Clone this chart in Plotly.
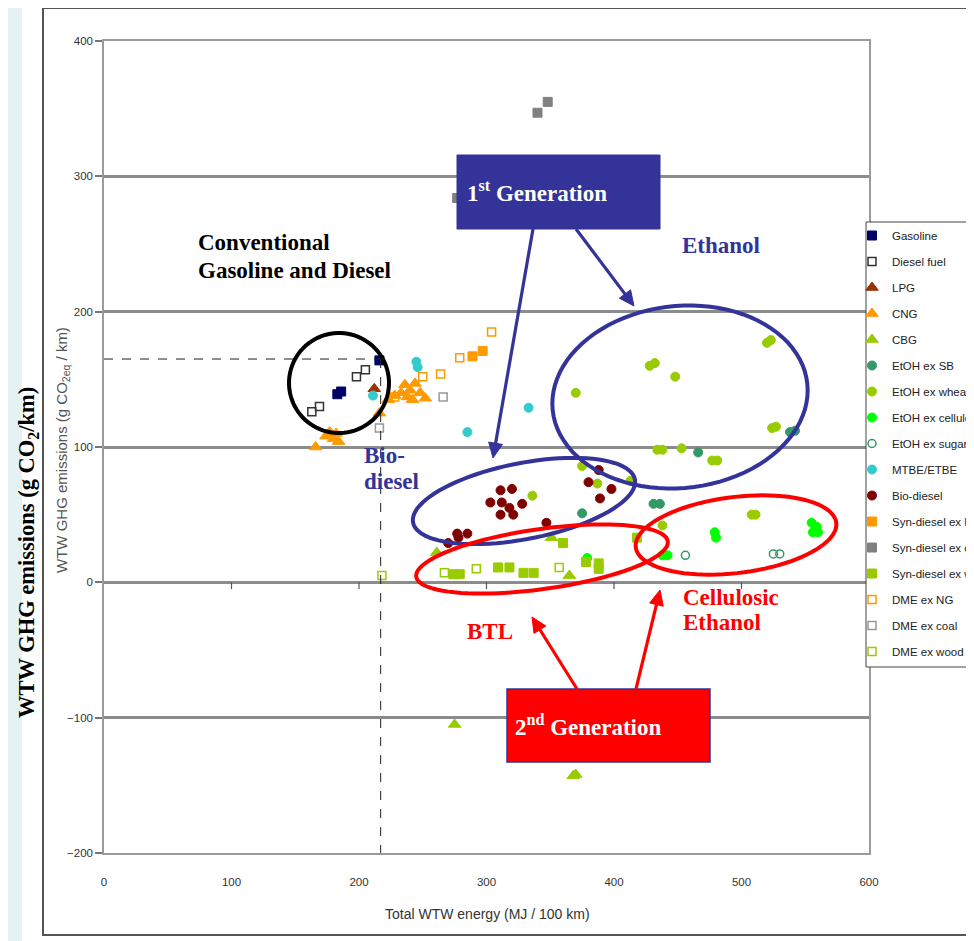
import math
import plotly.graph_objects as go

# ---------------- data ----------------
gasoline_x = [183, 186, 216]
gasoline_y = [139, 141, 164]

diesel_x = [163, 169, 198, 205]
diesel_y = [126, 130, 152, 157]

lpg_x = [212]
lpg_y = [143]

cng_x = [166, 174, 177, 180, 184, 182, 216, 223, 228, 233, 236, 238, 240, 242, 244, 248, 252]
cng_y = [100, 108, 111, 106, 104, 110, 125, 135, 138, 140, 146, 137, 142, 135, 147, 140, 136]

cbg_x = [261, 275, 351, 365, 368, 370]
cbg_y = [22, -105, 33, 5, -143, -142]

etoh_sb_x = [375, 431, 436, 466, 538, 542]
etoh_sb_y = [51, 58, 58, 96, 111, 112]

etoh_wheat_x = [370, 428, 432, 448, 520, 523, 524, 527, 434, 438, 453, 477, 481,
                336, 375, 387, 413, 438, 508, 511]
etoh_wheat_y = [140, 160, 162, 152, 177, 179, 114, 115, 98, 98, 99, 90, 90,
                64, 86, 73, 75, 42, 50, 50]

etoh_cell_x = [379, 438, 442, 479, 480, 555, 559, 556, 560]
etoh_cell_y = [18, 20, 20, 37, 33, 44, 41, 37, 37]

etoh_cane_x = [456, 525, 530]
etoh_cane_y = [20, 21, 21]

mtbe_x = [245, 246, 211, 333, 285]
mtbe_y = [163, 159, 138, 129, 111]

biodiesel_x = [311, 320, 303, 312, 328, 318, 311, 321, 347, 285, 277, 278, 270, 388, 380, 389, 398]
biodiesel_y = [68, 69, 59, 59, 58, 55, 50, 50, 44, 36, 36, 33, 29, 83, 74, 62, 69]

syn_ng_x = [289, 297]
syn_ng_y = [167, 171]

syn_coal_x = [277, 340, 348]
syn_coal_y = [284, 347, 355]

syn_wood_x = [274, 279, 309, 318, 329, 337, 360, 378, 388, 388, 418]
syn_wood_y = [6, 6, 11, 11, 7, 7, 29, 15, 14, 10, 33]

dme_ng_x = [228, 250, 264, 279, 304]
dme_ng_y = [137, 152, 154, 166, 185]

dme_coal_x = [216, 266]
dme_coal_y = [114, 137]

dme_wood_x = [218, 267, 292, 357]
dme_wood_y = [5, 7, 10, 11]

x_ticks = [0, 100, 200, 300, 400, 500, 600]
y_ticks = [-200, -100, 0, 100, 200, 300, 400]
ref_energy = 217   # reference gasoline energy (dashed line)
ref_ghg = 165      # reference gasoline GHG (dashed line)

# ---------------- layout geometry (window pixels) ----------------
WIN_W, WIN_H = 974, 941
OFF = 8                      # default page margin around the figure
W, H = WIN_W - OFF, WIN_H - OFF
PL, PR, PT, PB = 104, 869, 41, 853   # plot area in window pixels


def px(x):
    return (x - PL) / (PR - PL)


def py(y):
    return (PB - y) / (PB - PT)


SERIF = "Liberation Serif, Times New Roman, serif"
SANS = "Liberation Sans Narrow, Arial Narrow, Liberation Sans, Arial, sans-serif"
NAVY = "#333399"
RED = "#ff0000"

fig = go.Figure()

series = [
    ("Gasoline", gasoline_x, gasoline_y, "square", "#000066", 9, 1),
    ("Diesel fuel", diesel_x, diesel_y, "square-open", "#333333", 8, 1.5),
    ("LPG", lpg_x, lpg_y, "triangle-up", "#993300", 11, 1),
    ("CNG", cng_x, cng_y, "triangle-up", "#ff9900", 11, 1),
    ("CBG", cbg_x, cbg_y, "triangle-up", "#99cc00", 11, 1),
    ("EtOH ex SB", etoh_sb_x, etoh_sb_y, "circle", "#339966", 9, 1),
    ("EtOH ex wheat", etoh_wheat_x, etoh_wheat_y, "circle", "#99cc00", 9, 1),
    ("EtOH ex cellulose", etoh_cell_x, etoh_cell_y, "circle", "#00ff00", 9, 1),
    ("EtOH ex sugar cane", etoh_cane_x, etoh_cane_y, "circle-open", "#339966", 8, 1.5),
    ("MTBE/ETBE", mtbe_x, mtbe_y, "circle", "#33cccc", 9, 1),
    ("Bio-diesel", biodiesel_x, biodiesel_y, "circle", "#800000", 9, 1),
    ("Syn-diesel ex NG", syn_ng_x, syn_ng_y, "square", "#ff9900", 9, 1),
    ("Syn-diesel ex coal", syn_coal_x, syn_coal_y, "square", "#808080", 9, 1),
    ("Syn-diesel ex wood", syn_wood_x, syn_wood_y, "square", "#99cc00", 9, 1),
    ("DME ex NG", dme_ng_x, dme_ng_y, "square-open", "#ff9900", 8, 1.5),
    ("DME ex coal", dme_coal_x, dme_coal_y, "square-open", "#999999", 8, 1.5),
    ("DME ex wood", dme_wood_x, dme_wood_y, "square-open", "#99cc00", 8, 1.5),
]

for name, xs, ys, sym, col, size, lw in series:
    fig.add_trace(go.Scatter(
        x=xs, y=ys, mode="markers", name=name, legendgroup=name,
        marker=dict(symbol=sym, color=col, size=size,
                    line=dict(color=col, width=lw)),
    ))

shapes = []
annotations = []

# page background panels
shapes.append(dict(type="rect", xref="paper", yref="paper", layer="below",
                   x0=px(22), x1=px(WIN_W + 20), y0=py(WIN_H + 20), y1=py(8),
                   fillcolor="white", line=dict(width=0)))
shapes.append(dict(type="rect", xref="paper", yref="paper", layer="below",
                   x0=px(43), x1=px(WIN_W + 20), y0=py(935), y1=py(8),
                   fillcolor="white", line=dict(color="#555555", width=2)))

# dashed reference lines
shapes.append(dict(type="line", xref="x", yref="y", x0=0, x1=ref_energy, y0=ref_ghg, y1=ref_ghg,
                   line=dict(color="#222222", width=1, dash="dash")))
shapes.append(dict(type="line", xref="x", yref="y", x0=ref_energy, x1=ref_energy, y0=ref_ghg, y1=-200,
                   line=dict(color="#222222", width=1, dash="dash")))

# x tick marks drawn on the zero line (Excel style)
for t in x_ticks[1:-1]:
    shapes.append(dict(type="line", xref="x", yref="y", x0=t, x1=t, y0=0, y1=-5,
                       line=dict(color="#555555", width=1.2)))


def ellipse_path(cx, cy, rx, ry, ang_deg, n=90):
    a = math.radians(ang_deg)
    pts = []
    for i in range(n + 1):
        t = 2 * math.pi * i / n
        ex, ey = rx * math.cos(t), ry * math.sin(t)
        X = cx + ex * math.cos(a) - ey * math.sin(a)
        Y = cy + ex * math.sin(a) + ey * math.cos(a)
        pts.append((px(X), py(Y)))
    return "M " + " L ".join(f"{p[0]:.5f},{p[1]:.5f}" for p in pts) + " Z"


ellipses = [
    (339, 383, 50, 50, 0, "#000000"),
    (680, 397, 128, 91, -6, NAVY),
    (524, 501, 113, 38, -11, NAVY),
    (542, 559, 127, 30, -8, RED),
    (736, 535, 101, 38, -7, RED),
]
for cx, cy, rx, ry, ang, col in ellipses:
    shapes.append(dict(type="path", xref="paper", yref="paper", layer="above",
                       path=ellipse_path(cx, cy, rx, ry, ang),
                       line=dict(color=col, width=4)))

# generation boxes
shapes.append(dict(type="rect", xref="paper", yref="paper", layer="above",
                   x0=px(457), x1=px(660), y0=py(229), y1=py(155),
                   fillcolor=NAVY, line=dict(color=NAVY, width=1)))
shapes.append(dict(type="rect", xref="paper", yref="paper", layer="above",
                   x0=px(507), x1=px(710), y0=py(762), y1=py(689),
                   fillcolor=RED, line=dict(color=NAVY, width=1.5)))

# arrows: shaft + triangular head (window pixels: head tip, tail)
arrows = [
    (493, 458, 533, 229, NAVY),
    (634, 306, 576, 229, NAVY),
    (532, 617, 577, 689, RED),
    (660, 590, 636, 689, RED),
]
HEAD_L, HEAD_W = 15, 7
for hx, hy, tx, ty, col in arrows:
    dx, dy = hx - tx, hy - ty
    L = math.hypot(dx, dy)
    ux, uy = dx / L, dy / L
    bx, by = hx - ux * HEAD_L, hy - uy * HEAD_L
    shapes.append(dict(type="line", xref="paper", yref="paper", layer="above",
                       x0=px(tx), y0=py(ty), x1=px(bx + ux * 2), y1=py(by + uy * 2),
                       line=dict(color=col, width=3.2)))
    p1 = (bx - uy * HEAD_W, by + ux * HEAD_W)
    p2 = (bx + uy * HEAD_W, by - ux * HEAD_W)
    path = (f"M {px(hx):.5f},{py(hy):.5f} L {px(p1[0]):.5f},{py(p1[1]):.5f} "
            f"L {px(p2[0]):.5f},{py(p2[1]):.5f} Z")
    shapes.append(dict(type="path", xref="paper", yref="paper", layer="above",
                       path=path, fillcolor=col, line=dict(color=col, width=1)))

# legend frame
shapes.append(dict(type="rect", xref="paper", yref="paper", layer="above",
                   x0=px(866), x1=px(WIN_W + 20), y0=py(667), y1=py(222),
                   fillcolor="white", line=dict(color="#444444", width=1)))


def text(x, y, s, size, color, xanchor="left", family=SERIF, bold=True, angle=0):
    annotations.append(dict(
        x=px(x), y=py(y), xref="paper", yref="paper", text=f"<b>{s}</b>" if bold else s,
        showarrow=False, xanchor=xanchor, yanchor="middle", align="left",
        borderpad=0, textangle=angle, font=dict(family=family, size=size, color=color)))


TS = 23
text(197, 243, "Conventional", TS, "#000000")
text(197, 270, "Gasoline and Diesel", TS, "#000000")
text(681, 245, "Ethanol", TS, NAVY)
text(363, 455, "Bio-", TS, NAVY)
text(363, 481, "diesel", TS, NAVY)
text(466, 631, "BTL", TS, RED)
text(682, 597, "Cellulosic", TS, RED)
text(682, 622, "Ethanol", TS, RED)
text(466, 192, "1<sup>st</sup> Generation", TS, "white")
text(514, 725, "2<sup>nd</sup> Generation", TS, "white")

# axis titles
text(487, 914, "Total WTW energy (MJ / 100 km)", 14, "#333333", xanchor="center", family=SANS, bold=False)
text(62, 450, "WTW GHG emissions (g CO<sub>2eq</sub> / km)", 15, "#555555", xanchor="center",
     family=SANS, bold=False, angle=-90)
text(28, 553, "WTW GHG emissions (g CO<sub>2</sub>/km)", 22.5, "#000000", xanchor="center", angle=-90)

fig.update_layout(
    width=W, height=H,
    margin=dict(l=PL - OFF, r=W - (PR - OFF), t=PT - OFF, b=H - (PB - OFF), autoexpand=False),
    paper_bgcolor="#e4f2f3",
    plot_bgcolor="rgba(0,0,0,0)",
    showlegend=True,
    legend=dict(x=px(852), y=py(221), xanchor="left", yanchor="top",
                bgcolor="rgba(0,0,0,0)", borderwidth=0,
                font=dict(family=SANS, size=11.5, color="#222222"),
                traceorder="grouped", tracegroupgap=7, itemsizing="trace"),
    xaxis=dict(range=[0, 600], tickvals=x_ticks, showgrid=False, zeroline=False,
               showline=True, mirror=True, linecolor="#9a9a9a", linewidth=1.5,
               ticks="", ticklabelstandoff=17,
               tickfont=dict(family=SANS, size=11.5, color="#333333")),
    yaxis=dict(range=[-200, 400], tickvals=y_ticks, showgrid=True,
               gridcolor="#8c8c8c", gridwidth=2.5,
               zeroline=True, zerolinecolor="#8c8c8c", zerolinewidth=2.5,
               showline=True, mirror=True, linecolor="#9a9a9a", linewidth=1.5,
               ticks="outside", ticklen=7, tickcolor="#777777", tickwidth=1.5,
               tickfont=dict(family=SANS, size=11.5, color="#333333")),
    shapes=shapes,
    annotations=annotations,
)

fig.write_html("out.html")
